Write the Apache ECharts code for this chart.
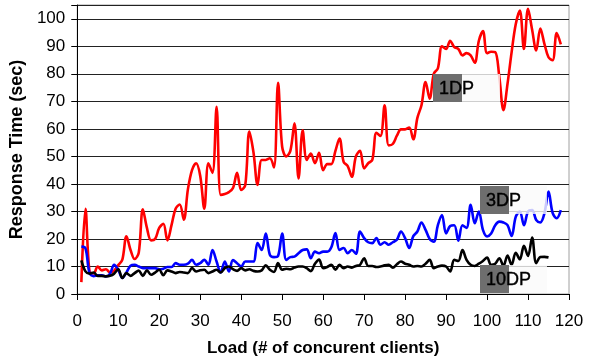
<!DOCTYPE html>
<html>
<head>
<meta charset="utf-8">
<script src="https://cdn.jsdelivr.net/npm/echarts@6/dist/echarts.min.js"></script>
<style>
html,body{margin:0;padding:0;background:#fff;}
#chart{width:591px;height:362px;}
</style>
</head>
<body>
<div id="chart"></div>
<script>
// Load (# of concurrent clients)
var loads = [1,2,3,4,5,6,7,8,9,10,11,12,13,14,15,16,17,18,19,20,
  21,22,23,24,25,26,27,28,29,30,31,32,33,34,35,36,37,38,39,40,
  41,42,43,44,45,46,47,48,49,50,51,52,53,54,55,56,57,58,59,60,
  61,62,63,64,65,66,67,68,69,70,71,72,73,74,75,76,77,78,79,80,
  81,82,83,84,85,86,87,88,89,90,91,92,93,94,95,96,97,98,99,100,
  101,102,103,104,105,106,107,108,109,110,111,112,113,114,115,116,117,118];

// Response time (sec), 1DP
var dp1 = [4.3,31,8,7.5,10,8.6,9,7.8,8.5,10.5,
  12.5,21,16,12.7,15,30.8,24,19.5,20,24,
  25.5,19.5,25,31,32.5,27,38,45,47.5,43,
  31,47.5,44,68,36,36.3,37,38.5,44,37.8,
  39.6,59,51.5,39.6,48.7,48.7,49.3,46,76.7,53.5,
  50,52,62,42,59.5,48.7,51,47.5,51.3,45,
  47.2,47.2,52,56.5,48,46.5,42.6,50,52,45.6,
  47.5,48.7,58.6,57.4,68.6,54,54.5,57.5,59.8,59.8,
  60.5,56.2,64,68.6,77,71,80,82,90,89,
  92,89.7,89,86.7,87.5,86.7,84,92,95.5,87.5,
  88,87.9,78.8,66.8,76.4,87.9,98,103,89,103.6,
  96,88.5,96.4,90.9,86,84.9,94.8,90.7];

// Response time (sec), 3DP
var dp3 = [17.2,16.6,7.6,6.5,6.8,6.8,6.4,7.4,10.6,8.8,
  5.8,7.8,10.3,10.6,10,9.4,9.4,9.4,9.4,9,
  9.2,9.8,9.8,11.2,10.6,10.6,11,12.4,10.6,11.2,
  12.4,10.6,16,11.8,7.8,11.8,8.2,12.3,11.2,10,
  11.8,11.8,11.8,18.5,16,22,14.2,13.4,13.8,22,
  12.4,13.4,13.6,14.8,16,16.2,13,15.4,14.8,15.4,
  15.4,17,22.1,16,16.7,14.8,16,14.6,22.7,20.3,
  18.8,18.5,20.3,17.9,18.8,17.9,18.8,19.7,22.7,20.3,
  16.7,21,22.7,26,23.3,20,19,25,28.7,22,
  24.7,25,19.4,25,24,32.4,25.7,30,23.3,20.9,
  22,25,26.3,26,25,21.1,28,30,25,29.9,
  30.5,26.9,26,29.3,37.2,29.5,27.5,30.5];

// Response time (sec), 10DP
var dp10 = [12.2,8.2,7.4,7.8,6.6,6.6,6.4,6.6,7.4,9,
  5.8,7.6,6.6,7.6,8.5,6.6,8.6,7,7.8,8.8,
  6.8,8.6,8.2,7.6,8,7.8,7.6,9.4,8.2,8.6,
  8.8,7.6,8.2,8.8,7.8,9.4,10,9,8.4,9.4,
  8.6,9,8.4,8.2,8.6,10.4,8.8,8,11.2,8.8,
  9.2,9,9.6,10,10,9.4,8.3,11,12.5,9.4,
  9.8,10.6,8.8,10.6,9.4,10,9.6,10.2,10.6,13,
  10.2,10.2,9.8,10,10.4,10.6,9.6,10.8,11.8,11,
  10.6,10,10.2,10,11,12.4,9.4,10,10.3,10,
  8.2,12.4,12,16,12.4,10.6,10.2,11,12,13.2,
  10.6,11,13,10.2,14,10.6,15,12.6,17.5,13.8,
  20.5,11.2,13.4,13.5,13.3];

var xTicks = [0,10,20,30,40,50,60,70,80,90,100,110,120];
var yTicks = [0,10,20,30,40,50,60,70,80,90,100];

function pairs(vals){ return vals.map(function(v,i){ return [loads[i], v]; }); }

var chart = echarts.init(document.getElementById('chart'), null, {renderer:'canvas'});
var FONT = '"Liberation Sans", Arial, sans-serif';

function tag(x, y, w, lightW, text){
  return [
    {type:'rect', z:100, shape:{x:x, y:y, width:w, height:28}, style:{fill:'#6e6e6e'}},
    {type:'rect', z:100, shape:{x:x+w, y:y, width:lightW, height:28}, style:{fill:'rgba(250,250,250,0.8)'}},
    {type:'text', z:101, x:x+6, y:y+15, style:{text:text, fill:'#000', font:'500 18px ' + FONT, textVerticalAlign:'middle', stroke:'#000', lineWidth:0.4}}
  ];
}

var option = {
  animation:false,
  backgroundColor:'#fff',
  grid:{left:72, right:22, top:5, bottom:68, show:true, borderColor:'#a0a0a0', borderWidth:1},
  xAxis:{
    type:'value', min:0, max:120, interval:10,
    name:'Load (# of concurent clients)', nameLocation:'middle', nameGap:46,
    nameTextStyle:{fontFamily:FONT, fontWeight:'bold', fontSize:17, color:'#000'},
    axisLine:{show:true, lineStyle:{color:'#000', width:1}},
    axisTick:{show:true, inside:false, length:6, lineStyle:{color:'#000'}},
    axisLabel:{fontFamily:FONT, fontSize:17, color:'#000', margin:19,
      formatter:function(v){ return xTicks.indexOf(v) >= 0 ? String(v) : ''; }},
    splitLine:{show:false}
  },
  yAxis:{
    type:'value', min:0, max:105, interval:10,
    name:'Response Time (sec)', nameLocation:'middle', nameGap:42, nameRotate:90,
    nameTextStyle:{fontFamily:FONT, fontWeight:'bold', fontSize:18, color:'#000'},
    axisLine:{show:true, lineStyle:{color:'#000', width:1}},
    axisTick:{show:true, length:6, lineStyle:{color:'#000'}},
    axisLabel:{fontFamily:FONT, fontSize:17, color:'#000', margin:12,
      formatter:function(v){ return yTicks.indexOf(v) >= 0 ? String(v) : ''; }},
    splitLine:{show:true, lineStyle:{color:'#222', width:1}}
  },
  series:[
    {type:'line', name:'1DP', data:pairs(dp1), smooth:0.35, symbol:'none',
      lineStyle:{color:'#ff0000', width:2.6}, z:3},
    {type:'line', name:'3DP', data:pairs(dp3), smooth:0.35, symbol:'none',
      lineStyle:{color:'#0000ff', width:2.6}, z:4},
    {type:'line', name:'10DP', data:pairs(dp10), smooth:0.35, symbol:'none',
      lineStyle:{color:'#000000', width:2.6}, z:5}
  ],
  graphic:[].concat(
    tag(433, 74, 29, 38, '1DP'),
    tag(480, 186, 29, 38, '3DP'),
    tag(480, 265, 29, 38, '10DP')
  )
};
chart.setOption(option);
</script>
</body>
</html>
